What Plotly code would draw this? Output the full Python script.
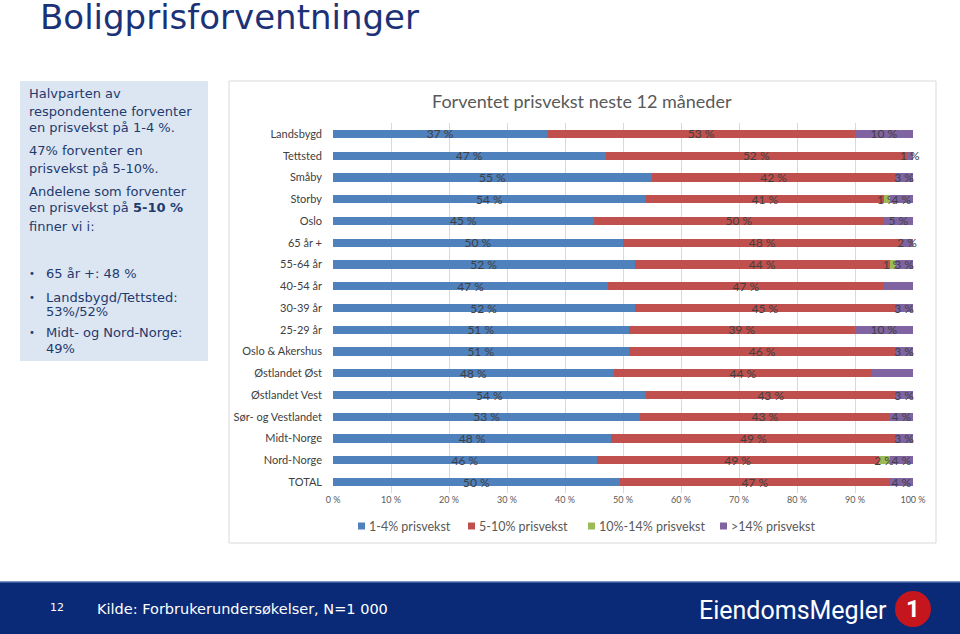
import plotly.graph_objects as go

categories = ["Landsbygd", "Tettsted", "Småby", "Storby", "Oslo", "65 år +", "55-64 år",
              "40-54 år", "30-39 år", "25-29 år", "Oslo & Akershus", "Østlandet Øst",
              "Østlandet Vest", "Sør- og Vestlandet", "Midt-Norge", "Nord-Norge", "TOTAL"]
s_1_4 =   [37, 47, 55, 54, 45, 50, 52, 47, 52, 51, 51, 48, 54, 53, 48, 46, 50]
s_5_10 =  [53, 52, 42, 41, 50, 48, 44, 47, 45, 39, 46, 44, 43, 43, 49, 49, 47]
s_10_14 = [None, None, None, 1, None, None, 1, None, None, None, None, None, None, None, None, 2, None]
s_gt14 =  [10, 1, 3, 4, 5, 2, 3, 5, 3, 10, 3, 7, 3, 4, 3, 4, 4]
series_names = ["1-4% prisvekst", "5-10% prisvekst", "10%-14% prisvekst", ">14% prisvekst"]
series_colors = ["#4F81BD", "#C0504D", "#9BBB59", "#8064A2"]
x_ticks = [0, 10, 20, 30, 40, 50, 60, 70, 80, 90, 100]

W, H = 960, 634
def px(x): return x / W
def py(y): return 1 - y / H

fig = go.Figure()
for name, vals, col in zip(series_names, [s_1_4, s_5_10, s_10_14, s_gt14], series_colors):
    fig.add_trace(go.Bar(
        y=categories, x=vals, name=name, orientation="h", marker=dict(color=col, line=dict(width=0)),
        text=[("%d %%" % v) if v is not None else "" for v in vals],
        textposition="inside", insidetextanchor="middle", textangle=0,
        textfont=dict(family="Lato", size=12, color="#404040"),
        cliponaxis=False, showlegend=False,
    ))

shapes = [
    dict(type="rect", xref="paper", yref="paper", x0=px(20), x1=px(208), y0=py(361), y1=py(81),
         fillcolor="#DCE6F2", line=dict(width=0), layer="below"),
    dict(type="rect", xref="paper", yref="paper", x0=px(229), x1=px(936), y0=py(543), y1=py(81),
         fillcolor="white", line=dict(color="#D9D9D9", width=1), layer="below"),
    dict(type="rect", xref="paper", yref="paper", x0=0, x1=1, y0=0, y1=py(582),
         fillcolor="#0A2A78", line=dict(width=0), layer="above"),
    dict(type="line", xref="paper", yref="paper", x0=0, x1=1, y0=py(582), y1=py(582),
         line=dict(color="#5070B0", width=1.5), layer="above"),
    dict(type="circle", xref="paper", yref="paper", x0=px(895), x1=px(931), y0=py(627), y1=py(591),
         fillcolor="#C4161C", line=dict(width=0), layer="above"),
]

annotations = []
def txt(text, x, y, size, color, family="DejaVu Sans", xanchor="left", yanchor="middle"):
    annotations.append(dict(text=text, x=px(x), y=py(y), xref="paper", yref="paper",
                            xanchor=xanchor, yanchor=yanchor, showarrow=False,
                            font=dict(family=family, size=size, color=color)))

txt("Boligprisforventninger", 38, 17, 34, "#1C3278")

box_color = "#1F3A6E"
box_lines = [
    ("Halvparten av", 94), ("respondentene forventer", 111), ("en prisvekst på 1-4 %.", 128),
    ("47% forventer en", 151), ("prisvekst på 5-10%.", 168),
    ("Andelene som forventer", 191), ("en prisvekst på <b>5-10 %</b>", 208), ("finner vi i:", 226),
    ("65 år +: 48 %", 273), ("Landsbygd/Tettsted:", 297), ("53%/52%", 311),
    ("Midt- og Nord-Norge:", 333), ("49%", 348),
]
for i, (t, y) in enumerate(box_lines):
    x = 44 if i >= 8 else 27
    txt(t, x, y, 13, box_color)
for y in [273, 297, 333]:
    txt("•", 27, y, 10, box_color)

txt("Forventet prisvekst neste 12 måneder", 582, 101, 18, "#595959", family="Lato", xanchor="center")

# legend (drawn as key boxes + labels)
legend_x = [358, 468, 588, 720]
for name, col, lx in zip(series_names, series_colors, legend_x):
    shapes.append(dict(type="rect", xref="paper", yref="paper", x0=px(lx), x1=px(lx + 7),
                       y0=py(529.5), y1=py(522.5), fillcolor=col, line=dict(width=0)))
    txt(name, lx + 9, 526, 12.5, "#595959", family="Lato")

txt("12", 48, 607, 11, "white")
txt("Kilde: Forbrukerundersøkelser, N=1 000", 95, 609, 14.5, "white")
txt("EiendomsMegler", 889, 610, 25, "white", family="Roboto", xanchor="right")
txt("<b>1</b>", 913, 609, 24, "white", family="Roboto", xanchor="center")

fig.update_layout(
    width=W, height=H, margin=dict(l=0, r=0, t=0, b=0, autoexpand=False),
    paper_bgcolor="white", plot_bgcolor="rgba(0,0,0,0)",
    barmode="stack", barnorm="percent", bargap=0.62,
    uniformtext=dict(minsize=12, mode="show"),
    shapes=shapes, annotations=annotations,
    showlegend=False,
    xaxis=dict(domain=[px(333), px(913)], range=[0, 100], tickvals=x_ticks,
               ticktext=["%d %%" % v for v in x_ticks], showgrid=True, gridcolor="#D9D9D9",
               gridwidth=1, zeroline=False, showline=False, automargin=False,
               tickfont=dict(family="Lato", size=9, color="#595959"), fixedrange=True),
    yaxis=dict(domain=[py(493), py(123)], autorange="reversed", showgrid=False,
               showline=False, ticklabelstandoff=10, automargin=False,
               tickfont=dict(family="Lato", size=11, color="#404040"), fixedrange=True),
)

fig.write_html("out.html", config={"displayModeBar": False},
               post_script="document.body.style.margin='0px';document.body.style.overflow='hidden';")
